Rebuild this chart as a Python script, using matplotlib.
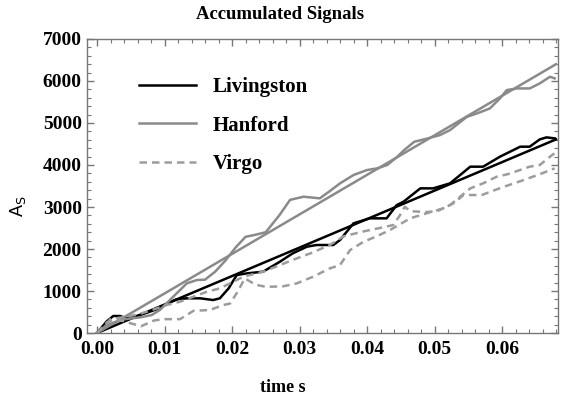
import matplotlib

matplotlib.use("Agg")
import matplotlib.pyplot as plt
from matplotlib.ticker import MultipleLocator

# straight-line fits (start, end)
fit_t = [0.0, 0.068]
livingston_fit = [0.0, 4610]
hanford_fit = [0.0, 6400]

# accumulated signals
liv_t = [0, 0.0014, 0.0024, 0.0034, 0.0044, 0.0059, 0.0074, 0.0088, 0.0103, 0.0118,
         0.0133, 0.0153, 0.0172, 0.0182, 0.0195, 0.0207, 0.0222, 0.0246, 0.0271, 0.029,
         0.0311, 0.0325, 0.035, 0.036, 0.038, 0.0404, 0.0429, 0.0444, 0.0454, 0.0479,
         0.0498, 0.0523, 0.0553, 0.0572, 0.0597, 0.0627, 0.0641, 0.0656, 0.0666, 0.0678]
liv_a = [0, 270, 405, 405, 350, 405, 484, 564, 690, 802,
         826, 826, 785, 826, 1064, 1380, 1420, 1460, 1698, 1897,
         2055, 2095, 2095, 2214, 2611, 2730, 2730, 3046, 3125, 3444,
         3444, 3563, 3960, 3960, 4198, 4436, 4436, 4610, 4658, 4634]

han_t = [0, 0.0014, 0.0039, 0.0064, 0.0081, 0.0093, 0.0113, 0.0133, 0.0148, 0.016,
         0.0175, 0.019, 0.0205, 0.022, 0.0235, 0.025, 0.027, 0.0286, 0.0306, 0.033,
         0.0345, 0.036, 0.038, 0.04, 0.0415, 0.043, 0.0445, 0.0455, 0.047, 0.049,
         0.0508, 0.0523, 0.0548, 0.0563, 0.0582, 0.0597, 0.0607, 0.0622, 0.0641, 0.0656,
         0.0671, 0.0678]
han_a = [0, 190, 325, 373, 428, 547, 865, 1182, 1262, 1270,
         1460, 1720, 2030, 2290, 2340, 2400, 2800, 3170, 3245, 3206,
         3380, 3563, 3761, 3880, 3920, 4000, 4198, 4355, 4553, 4633,
         4712, 4831, 5148, 5228, 5347, 5585, 5783, 5823, 5823, 5943,
         6100, 6062]

vir1_t = [0, 0.002, 0.004, 0.006, 0.008, 0.0103, 0.0123, 0.0143, 0.0163, 0.0182,
          0.0207, 0.0217, 0.0246, 0.0271, 0.0296, 0.0316, 0.0345, 0.0365, 0.0395, 0.0419,
          0.0439, 0.0449, 0.0456, 0.0464, 0.0488, 0.0504, 0.0523, 0.0538, 0.0553, 0.0572,
          0.0592, 0.0609, 0.0641, 0.0656, 0.0671, 0.0678]
vir1_a = [0, 330, 380, 440, 540, 666, 746, 865, 984, 1063,
          1262, 1340, 1460, 1618, 1777, 1896, 2095, 2300, 2420, 2500,
          2571, 2809, 3006, 2900, 2880, 2900, 3046, 3245, 3444, 3563,
          3720, 3784, 3960, 4000, 4196, 4280]

vir2_t = [0, 0.0015, 0.0025, 0.004, 0.0065, 0.0085, 0.01, 0.0123, 0.0143, 0.0167,
          0.0187, 0.0197, 0.0207, 0.0219, 0.0235, 0.025, 0.0275, 0.0296, 0.032, 0.0345,
          0.036, 0.0375, 0.0395, 0.0414, 0.0434, 0.0464, 0.0488, 0.0513, 0.0528, 0.0543,
          0.057, 0.06, 0.0632, 0.0659, 0.0678]
vir2_a = [0, 250, 330, 280, 160, 300, 330, 330, 530, 547,
          666, 700, 950, 1300, 1150, 1100, 1110, 1182, 1340, 1539,
          1618, 1976, 2174, 2300, 2452, 2730, 2849, 2968, 3087, 3285,
          3285, 3467, 3641, 3800, 3920]

serif = ["Liberation Serif", "DejaVu Serif"]
plt.rcParams["mathtext.fontset"] = "dejavusans"

fig = plt.figure(figsize=(5.61, 4.04), dpi=100)
ax = fig.add_axes([0.1556, 0.1757, 0.8385, 0.7278])

black = "#000000"
gray = "#8a8a8a"
lgray = "#9c9c9c"
lw = 1.8
dash = (0, (3.0, 2.0))

ax.plot(liv_t, liv_a, color=black, lw=lw, label="Livingston")
ax.plot(fit_t, livingston_fit, color=black, lw=lw)
ax.plot(han_t, han_a, color=gray, lw=lw, label="Hanford")
ax.plot(fit_t, hanford_fit, color=gray, lw=lw)
ax.plot(vir1_t, vir1_a, color=lgray, lw=lw, ls=dash, label="Virgo")
ax.plot(vir2_t, vir2_a, color=lgray, lw=lw, ls=dash)

ax.set_xlim(-0.00144, 0.06825)
ax.set_ylim(0, 7000)
ax.xaxis.set_major_locator(MultipleLocator(0.01))
ax.xaxis.set_minor_locator(MultipleLocator(0.002))
ax.yaxis.set_major_locator(MultipleLocator(1000))
ax.yaxis.set_minor_locator(MultipleLocator(200))
ax.tick_params(which="both", direction="in", top=True, right=True,
               color="#777777", labelsize=14)
ax.tick_params(axis="x", pad=6)
ax.tick_params(axis="y", pad=4)
ax.tick_params(which="major", length=5, width=1)
ax.tick_params(which="minor", length=3, width=0.8)
ax.set_xticklabels([f"{v:.2f}" for v in ax.get_xticks()])
for lab in ax.get_xticklabels() + ax.get_yticklabels():
    lab.set_family(serif)
    lab.set_fontweight("bold")
for sp in ax.spines.values():
    sp.set_color("#777777")
    sp.set_linewidth(1.0)

# title and axis labels are centred on the figure, not the frame
fig.text(0.5, 0.963, "Accumulated Signals", family=serif, fontweight="bold",
         fontsize=13.5, ha="center", va="center")
ax.set_xlabel("time s", family=serif, fontweight="bold", fontsize=13)
ax.xaxis.set_label_coords(0.415, -0.155)
ax.set_ylabel(r"A$_{\mathrm{S}}$", family=["Liberation Sans", "DejaVu Sans"],
              fontsize=13)
ax.yaxis.set_label_coords(-0.125, 0.43)

leg = ax.legend(loc="upper left", bbox_to_anchor=(0.07, 0.935), frameon=False,
                handlelength=2.75, labelspacing=0.9, handletextpad=0.8,
                prop={"family": serif, "weight": "bold", "size": 15})

fig.savefig("out.png", dpi=100)
